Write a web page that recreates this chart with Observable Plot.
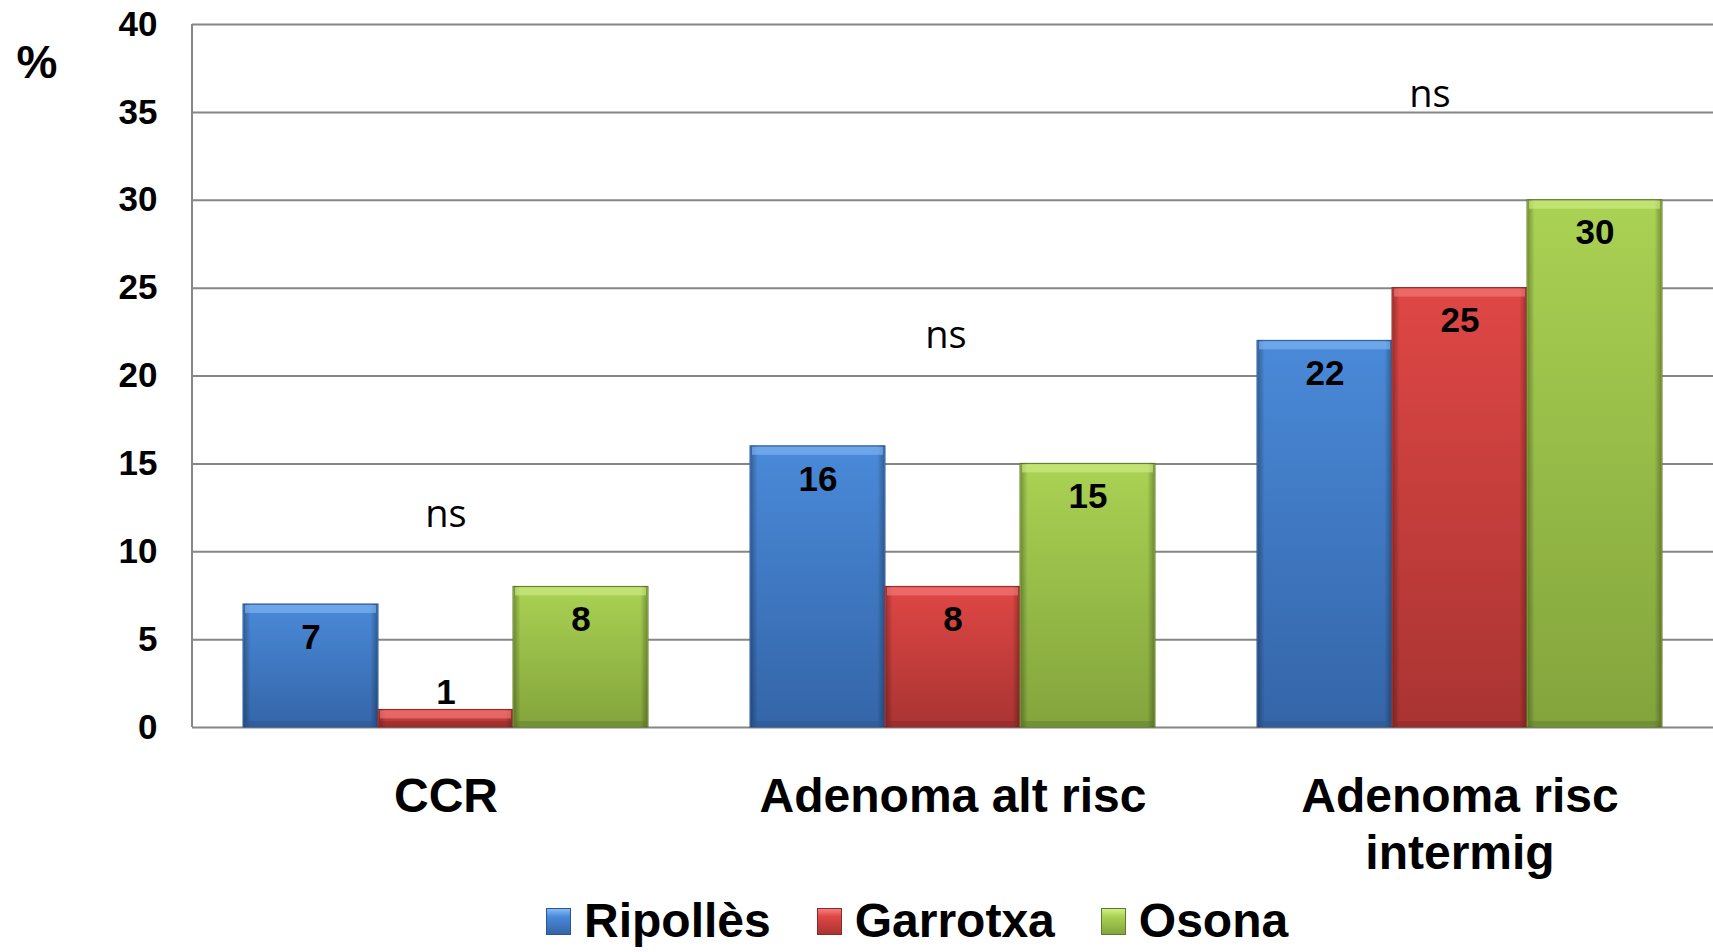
<!DOCTYPE html>
<html>
<head>
<meta charset="utf-8">
<script src="https://cdn.jsdelivr.net/npm/d3@7"></script>
<script src="https://cdn.jsdelivr.net/npm/@observablehq/plot@0.6"></script>
<style>
  html, body { margin: 0; padding: 0; background: #fff; overflow: hidden; }
  #wrap { position: relative; width: 1713px; height: 952px; font-family: "Liberation Sans", Arial, sans-serif; color: #000; }
  #legend { display: flex; align-items: center; height: 62px; padding-left: 546px; box-sizing: border-box; }
  .item { display: flex; align-items: center; margin-right: 46px; }
  .sw { width: 25px; height: 27px; box-sizing: border-box; margin-right: 13px; }
  .lab { font-size: 48px; font-weight: bold; line-height: 1; }
</style>
</head>
<body>
<div id="wrap"><div id="chart"></div><div id="legend"></div></div>
<script>
// ---- data ----
const categories = ["CCR", "Adenoma alt risc", "Adenoma risc intermig"];
const categoryLabels = ["CCR", "Adenoma alt risc", "Adenoma risc\nintermig"];
const series = ["Ripollès", "Garrotxa", "Osona"];
const ripolles = [7, 16, 22];
const garrotxa = [1, 8, 25];
const osona = [8, 15, 30];
const yTicks = [0, 5, 10, 15, 20, 25, 30, 35, 40];
const nsText = ["ns", "ns", "ns"];
const nsY = [11.4, 21.6, 35.3];

// ---- styles ----
const colorTop = {"Ripollès": "#4a8ad9", "Garrotxa": "#df4745", "Osona": "#aad253"};
const colorBottom = {"Ripollès": "#3465a8", "Garrotxa": "#a93432", "Osona": "#83a43c"};
const colorEdge = {"Ripollès": "#2c568f", "Garrotxa": "#8a2927", "Osona": "#5e7a2a"};
const colorHi = {"Ripollès": "#86bbf5", "Garrotxa": "#f58080", "Osona": "#d2ee8a"};
const nsShift = [0, -7, -30];
const gradId = s => "grad" + series.indexOf(s);

const valuesBySeries = [ripolles, garrotxa, osona];
const rows = [];
categories.forEach((c, i) => series.forEach((s, j) => rows.push({cat: c, series: s, value: valuesBySeries[j][i]})));
const nsRows = categories.map((c, i) => ({cat: c, text: nsText[i], y: nsY[i], series: series[1]}));
const labelOf = new Map(categories.map((c, i) => [c, categoryLabels[i]]));

const plot = Plot.plot({
  width: 1713,
  height: 890,
  marginLeft: 192,
  marginRight: 0,
  marginTop: 24,
  marginBottom: 163,
  style: {fontFamily: "'Liberation Sans', Arial, sans-serif", color: "#000", background: "#fff", overflow: "visible"},
  fx: {domain: categories, padding: 0, axis: null, label: null},
  x: {domain: series, paddingInner: 0, paddingOuter: 0.364, axis: null},
  y: {domain: [0, 40], axis: null},
  color: {type: "identity"},
  marks: [
    Plot.ruleY(yTicks, {stroke: "#868686", strokeWidth: 2}),
    Plot.barY(rows, {fx: "cat", x: "series", y: "value", fill: d => `url(#${gradId(d.series)})`, stroke: d => colorEdge[d.series], strokeWidth: 1}),
    Plot.barY(rows, {fx: "cat", x: "series", y: "value", insetLeft: 1, insetRight: 1, fill: () => "url(#sideShade)"}),
    Plot.barY(rows, {fx: "cat", x: "series", y1: "value", y2: "value", insetBottom: -9, insetTop: 1, insetLeft: 2, insetRight: 2, fill: d => colorHi[d.series], fillOpacity: 0.6}),
    Plot.barY(rows, {fx: "cat", x: "series", y1: 0, y2: 0, insetTop: -6, insetBottom: 1, insetLeft: 2, insetRight: 2, fill: d => colorEdge[d.series], fillOpacity: 0.45}),
    Plot.text(rows.filter(d => d.value >= 4), {fx: "cat", x: "series", y: "value", text: d => String(d.value), dy: 33, fontSize: 35, fontWeight: "bold", fill: "#000"}),
    Plot.text(rows.filter(d => d.value < 4), {fx: "cat", x: "series", frameAnchor: "bottom", text: d => String(d.value), dy: -24, fontSize: 35, fontWeight: "bold", fill: "#000"}),
    ...nsRows.map((r, i) => Plot.text([r], {fx: "cat", x: "series", y: "y", text: "text", lineAnchor: "bottom", dx: nsShift[i], fontSize: 38, fontFamily: "'Open Sans', sans-serif", fill: "#000"})),
    Plot.text([{cat: categories[0]}], {fx: "cat", frameAnchor: "top-left", text: () => "%", textAnchor: "start", lineAnchor: "top", dx: -176, dy: 21, fontSize: 46, fontWeight: "bold", fill: "#000"}),
    Plot.axisY({ticks: yTicks, tickSize: 0, tickPadding: 35, fontSize: 35, fontWeight: "bold", label: null, fill: "#000"}),
    Plot.axisFx({anchor: "bottom", tickSize: 0, tickPadding: 44, fontSize: 48, fontWeight: "bold", lineHeight: 1.19, label: null, tickFormat: d => labelOf.get(d), fill: "#000"})
  ]
});

// gradients
const svg = d3.select(plot);
const defs = svg.insert("defs", ":first-child");
series.forEach(s => {
  const g = defs.append("linearGradient").attr("id", gradId(s)).attr("x1", 0).attr("y1", 0).attr("x2", 0).attr("y2", 1);
  g.append("stop").attr("offset", "0%").attr("stop-color", colorTop[s]);
  g.append("stop").attr("offset", "100%").attr("stop-color", colorBottom[s]);
});
const side = defs.append("linearGradient").attr("id", "sideShade").attr("x1", 0).attr("y1", 0).attr("x2", 1).attr("y2", 0);
[[0, 0.28], [0.05, 0], [0.95, 0], [1, 0.28]].forEach(([o, a]) =>
  side.append("stop").attr("offset", o).attr("stop-color", "#000").attr("stop-opacity", a));

// left axis line using the plot's scales
const fxS = plot.scale("fx"), yS = plot.scale("y");
svg.append("line")
  .attr("x1", fxS.apply(categories[0])).attr("x2", fxS.apply(categories[0]))
  .attr("y1", yS.apply(40)).attr("y2", yS.apply(0))
  .attr("stroke", "#868686").attr("stroke-width", 2);

document.getElementById("chart").appendChild(plot);

// legend
const legend = d3.select("#legend");
series.forEach(s => {
  const it = legend.append("div").attr("class", "item");
  it.append("div").attr("class", "sw")
    .style("background", `linear-gradient(${colorHi[s]}, ${colorTop[s]} 30%, ${colorBottom[s]})`)
    .style("border", `1px solid ${colorEdge[s]}`);
  it.append("div").attr("class", "lab").text(s);
});
</script>
</body>
</html>
